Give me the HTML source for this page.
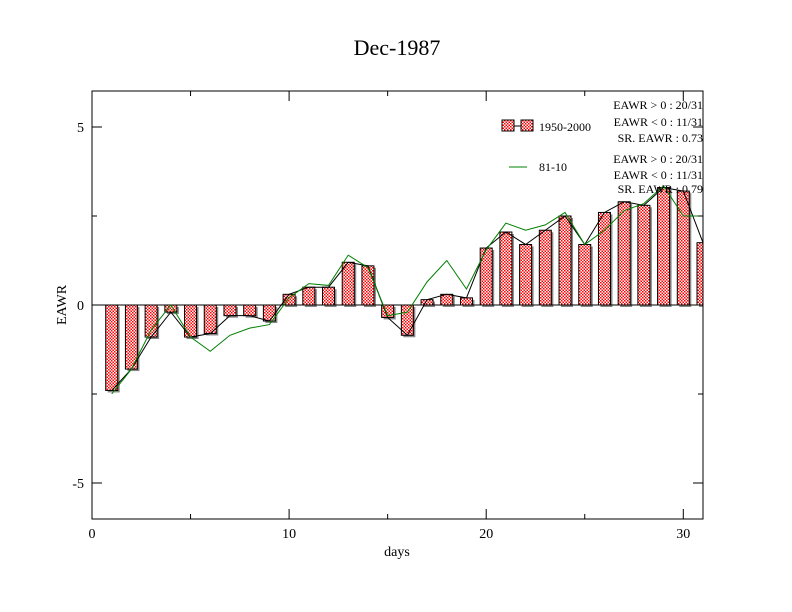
<!DOCTYPE html>
<html><head><meta charset="utf-8"><style>
body{margin:0;background:#fff;}
svg{display:block;font-family:"Liberation Serif",serif;}
</style></head><body>
<svg id="chart" width="792" height="612" viewBox="0 0 792 612" xmlns="http://www.w3.org/2000/svg">
<defs>
<pattern id="chk" width="3" height="3" patternUnits="userSpaceOnUse">
<rect width="3" height="3" fill="#fff"/>
<rect width="1.5" height="1.5" fill="#f00"/>
<rect x="1.5" y="1.5" width="1.5" height="1.5" fill="#f00"/>
</pattern>
<clipPath id="plotclip"><rect x="92" y="91" width="611" height="428"/></clipPath>
</defs>
<rect width="792" height="612" fill="#fff"/>
<text x="397" y="55" font-size="22" text-anchor="middle">Dec-1987</text>
<g id="marks" clip-path="url(#plotclip)"></g>
<rect x="92" y="91" width="611" height="428" fill="none" stroke="#000" stroke-width="1"/>
<g id="axes"></g>
<text x="397" y="556" font-size="14" text-anchor="middle">days</text>
<text x="66" y="305" font-size="14" text-anchor="middle" transform="rotate(-90 66 305)">EAWR</text>
<g font-size="12">
<line x1="508" y1="126" x2="527" y2="126" stroke="#000"/>
<rect x="502" y="120" width="12" height="11" fill="url(#chk)" stroke="#000"/>
<rect x="521" y="120" width="12" height="11" fill="url(#chk)" stroke="#000"/>
<text x="539" y="131">1950-2000</text>
<line x1="509" y1="167" x2="527" y2="167" stroke="#008000"/>
<text x="539" y="171">81-10</text>
</g>
<g font-size="12" text-anchor="end">
<text x="703" y="109">EAWR &gt; 0 : 20/31</text>
<text x="703" y="126">EAWR &lt; 0 : 11/31</text>
<text x="703" y="142">SR. EAWR :  0.73</text>
<text x="703" y="163">EAWR &gt; 0 : 20/31</text>
<text x="703" y="179">EAWR &lt; 0 : 11/31</text>
<text x="703" y="193">SR. EAWR :  0.79</text>
</g>
</svg>
<script>
const days = [1,2,3,4,5,6,7,8,9,10,11,12,13,14,15,16,17,18,19,20,21,22,23,24,25,26,27,28,29,30,31];
const eawr1950 = [-2.4,-1.8,-0.9,-0.2,-0.9,-0.8,-0.3,-0.3,-0.45,0.3,0.5,0.5,1.2,1.1,-0.35,-0.85,0.15,0.3,0.2,1.6,2.05,1.7,2.1,2.5,1.7,2.6,2.9,2.8,3.3,3.2,1.75];
const eawr8110 = [-2.5,-1.8,-0.7,0.0,-0.9,-1.3,-0.85,-0.65,-0.55,0.2,0.6,0.55,1.4,1.05,-0.3,-0.2,0.65,1.25,0.45,1.55,2.3,2.1,2.25,2.6,1.7,2.1,2.65,2.85,3.35,2.5,2.5];
const xTicks = [0,10,20,30];
const xMinor = [5,15,25];
const yTicks = [-5,0,5];
const yMinor = [-2.5,2.5];
const NS='http://www.w3.org/2000/svg';
const X = d => 92 + d*(611/31);
const Y = v => 305 - v*35.6;
function mk(tag, attrs, parent){const e=document.createElementNS(NS,tag);for(const k in attrs)e.setAttribute(k,attrs[k]);parent.appendChild(e);return e;}
const marks=document.getElementById('marks'), axes=document.getElementById('axes');
const bw=12;
days.forEach((d,i)=>{
  const v=eawr1950[i], y0=Math.min(Y(0),Y(v)), h=Math.abs(Y(v)-Y(0));
  const s=mk('rect',{x:X(d)-bw/2+2,y:y0+2,width:bw,height:h,fill:'#888'},marks);
  
  
  const r=mk('rect',{x:X(d)-bw/2,y:y0,width:bw,height:h,fill:'url(#chk)',stroke:'#000','stroke-width':1},marks);
  
  
});
const zl=mk('line',{x1:92,x2:703,y1:Y(0),y2:Y(0),stroke:'#000'},marks);


const l1=mk('polyline',{points:days.map((d,i)=>X(d)+','+Y(eawr1950[i])).join(' '),fill:'none',stroke:'#000','stroke-width':1},marks);


const l2=mk('polyline',{points:days.map((d,i)=>X(d)+','+Y(eawr8110[i])).join(' '),fill:'none',stroke:'#008000','stroke-width':1},marks);


xTicks.forEach(t=>{
  [[519,-10],[91,10]].forEach(([b,dl])=>{const l=mk('line',{x1:X(t),x2:X(t),y1:b,y2:b+dl,stroke:'#000'},axes);});
  const tx=mk('text',{x:X(t),y:538,'font-size':14,'text-anchor':'middle'},axes);tx.textContent=t;
  
  
});
xMinor.forEach(t=>{[[519,-5],[91,5]].forEach(([b,dl])=>{const l=mk('line',{x1:X(t),x2:X(t),y1:b,y2:b+dl,stroke:'#000'},axes);});});
yTicks.forEach(t=>{
  [[92,10],[703,-10]].forEach(([b,dl])=>{const l=mk('line',{x1:b,x2:b+dl,y1:Y(t),y2:Y(t),stroke:'#000'},axes);});
  const tx=mk('text',{x:84,y:Y(t)+5,'font-size':14,'text-anchor':'end'},axes);tx.textContent=t;
  
  
});
yMinor.forEach(t=>{[[92,5],[703,-5]].forEach(([b,dl])=>{const l=mk('line',{x1:b,x2:b+dl,y1:Y(t),y2:Y(t),stroke:'#000'},axes);});});
</script>
</body></html>
